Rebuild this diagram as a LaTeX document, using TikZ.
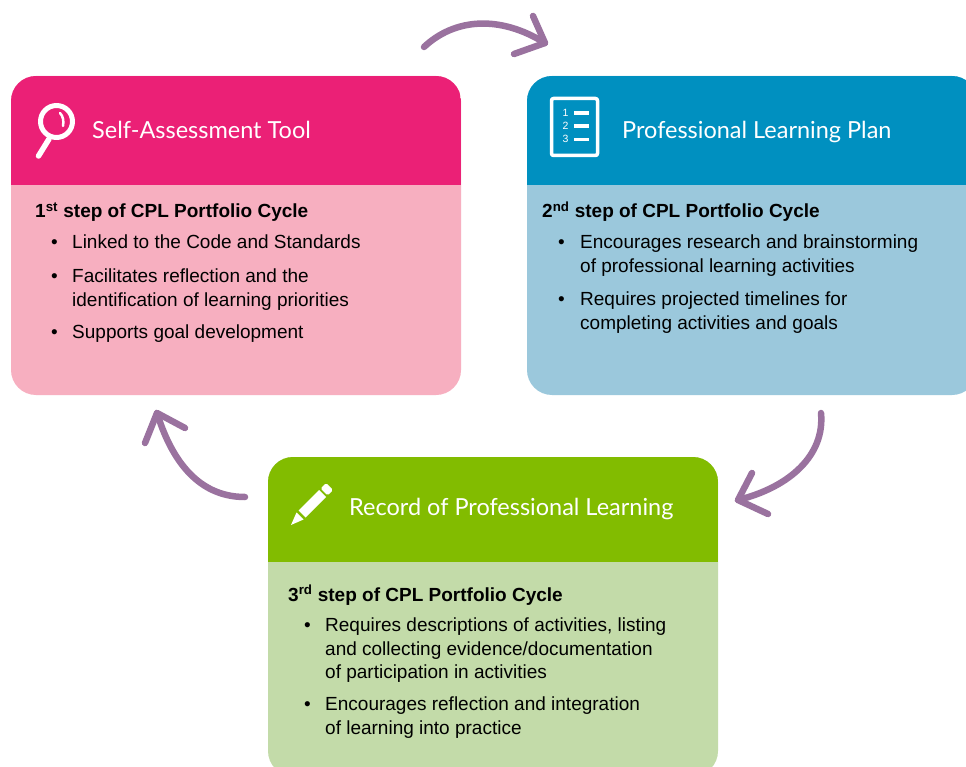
\documentclass[tikz,border=0pt]{standalone}
\usepackage{fontspec}
\setmainfont{Liberation Sans}
\newfontfamily\titlefont{Lato}
\definecolor{pinkhead}{HTML}{EB2076}
\definecolor{pinkbody}{HTML}{F7AFC0}
\definecolor{bluehead}{HTML}{0090C0}
\definecolor{bluebody}{HTML}{9BC8DC}
\definecolor{greenhead}{HTML}{82BC00}
\definecolor{greenbody}{HTML}{C3DBA9}
\definecolor{arrowpurple}{HTML}{9A729F}
\tikzset{
  x=1pt,y=-1pt,
  panelbody/.style={inner sep=0pt,outer sep=0pt,rounded corners=25pt,minimum width=450pt,anchor=north west},
  panelhead/.style={inner sep=0pt,outer sep=0pt,minimum width=450pt,anchor=north west},
  titletext/.style={anchor=base west,inner sep=0pt,text=white,font=\titlefont\fontsize{23.5}{28}\selectfont},
  headingtext/.style={anchor=base west,inner sep=0pt,font=\bfseries\fontsize{19}{23}\selectfont},
  bodytext/.style={anchor=north west,inner sep=0pt,align=left,font=\fontsize{19}{23.5}\selectfont},
  bullettext/.style={anchor=north west,inner sep=0pt,font=\fontsize{19}{23.5}\selectfont},
  cycle arrow/.style={draw=arrowpurple,line width=6.5pt,line cap=round,line join=round},
  iconline/.style={draw=white,line cap=round,line join=round},
  iconnum/.style={inner sep=0pt,text=white,font=\fontsize{10.5}{12}\selectfont}
}
\newcommand{\bulletitem}[5]{% name, bullet x, text x, top y, text
  \node[bullettext] (#1b) at (#2,#4) {\strut •};
  \node[bodytext] (#1) at (#3,#4) {\strut #5};
}
\begin{document}
\begin{tikzpicture}
\clip (0,0) rectangle (966,767);
\fill[white] (0,0) rectangle (966,767);

% Panel 1
\node[panelbody,fill=pinkbody,minimum height=319pt] (selfbody) at (11,76) {};
\begin{scope}
  \clip[rounded corners=25pt] (11,76) rectangle (461,395);
  \node[panelhead,fill=pinkhead,minimum height=109pt] (selfhead) at (11,76) {};
\end{scope}
% Panel 2
\node[panelbody,fill=bluebody,minimum height=319pt] (planbody) at (527,76) {};
\begin{scope}
  \clip[rounded corners=25pt] (527,76) rectangle (977,395);
  \node[panelhead,fill=bluehead,minimum height=109pt] (planhead) at (527,76) {};
\end{scope}
% Panel 3
\node[panelbody,fill=greenbody,minimum height=319pt] (recbody) at (268,457) {};
\begin{scope}
  \clip[rounded corners=25pt] (268,457) rectangle (718,776);
  \node[panelhead,fill=greenhead,minimum height=104.5pt] (rechead) at (268,457) {};
\end{scope}

% Titles
\node[titletext] (selftitle) at (92,139) {Self-Assessment Tool};
\node[titletext] (plantitle) at (622,139) {Professional Learning Plan};
\node[titletext] (rectitle) at (349,515) {Record of Professional Learning};

% Magnifier icon
\draw[iconline,line width=5pt] (56.5,121.5) circle (16);
\draw[iconline,line width=5.5pt] (49,139) -- (38.5,156);
\draw[iconline,line width=2.5pt] (60,113) .. controls (63,116) and (64,121) .. (63,126);

% List icon
\draw[iconline,line width=3.5pt,rounded corners=2pt] (551.5,98.5) rectangle (597.5,155.5);
\node[iconnum] (num1) at (565.5,113) {1};
\node[iconnum] (num2) at (565.5,126) {2};
\node[iconnum] (num3) at (565.5,139) {3};
\fill[white] (574,111) rectangle (589,115);
\fill[white] (574,124) rectangle (589,128);
\fill[white] (574,138) rectangle (589,141.5);

% Pencil icon
\fill[white] (291,525) -- (296.5,512.5) -- (303.5,519.5) -- cycle;
\fill[white] (298.5,510.5) -- (305.5,517.5) -- (326,497) -- (319,490) -- cycle;
\fill[white,rounded corners=1.5pt] (320.5,488.5) -- (327.5,495.5) -- (333,490) -- (326,483) -- cycle;

% Panel 1 text
\node[headingtext] (selfstep) at (35,218) {1\textsuperscript{st} step of CPL Portfolio Cycle};
\bulletitem{s1}{51}{72}{232}{Linked to the Code and Standards}
\bulletitem{s2}{51}{72}{266}{Facilitates reflection and the\\identification of learning priorities}
\bulletitem{s3}{51}{72}{322}{Supports goal development}

% Panel 2 text
\node[headingtext] (planstep) at (542,218) {2\textsuperscript{nd} step of CPL Portfolio Cycle};
\bulletitem{p1}{558}{580}{232}{Encourages research and brainstorming\\of professional learning activities}
\bulletitem{p2}{558}{580}{289}{Requires projected timelines for\\completing activities and goals}

% Panel 3 text
\node[headingtext] (recstep) at (288,601) {3\textsuperscript{rd} step of CPL Portfolio Cycle};
\bulletitem{r1}{304}{325}{615}{Requires descriptions of activities, listing\\and collecting evidence/documentation\\of participation in activities}
\bulletitem{r2}{304}{325}{694}{Encourages reflection and integration\\of learning into practice}

% Arrows
\coordinate (a1s) at (424,47);
\coordinate (a1t) at (545,43);
\coordinate (a1x) at (533,16);
\coordinate (a1y) at (514,54);
\draw[cycle arrow] (a1s) .. controls (455,18) and (500,15) .. (a1t);
\draw[cycle arrow] (a1x) -- (a1t) -- (a1y);

\coordinate (a2s) at (821,413);
\coordinate (a2t) at (738,500);
\coordinate (a2x) at (752,473);
\coordinate (a2y) at (768,514);
\draw[cycle arrow] (a2s) .. controls (825,455) and (790,487) .. (a2t);
\draw[cycle arrow] (a2x) -- (a2t) -- (a2y);

\coordinate (a3s) at (245,497);
\coordinate (a3t) at (157,413);
\coordinate (a3x) at (185,428);
\coordinate (a3y) at (145,443);
\draw[cycle arrow] (a3s) .. controls (195,497) and (170,455) .. (a3t);
\draw[cycle arrow] (a3x) -- (a3t) -- (a3y);
\end{tikzpicture}
\end{document}
